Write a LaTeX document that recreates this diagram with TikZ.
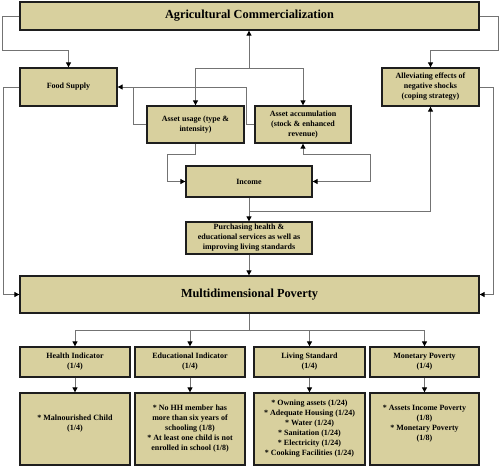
\documentclass[tikz,border=0pt]{standalone}
\usepackage{fontspec}
\setmainfont{Liberation Serif}
\usetikzlibrary{arrows.meta}
\definecolor{boxfill}{RGB}{216,208,158}
\definecolor{linegray}{RGB}{115,115,115}
\definecolor{boxline}{RGB}{30,30,30}
\tikzset{
  box/.style={draw=boxline, line width=1.3pt, fill=boxfill, inner sep=0pt, align=center,
    font=\bfseries\fontsize{8}{10}\selectfont},
  bigbox/.style={box, font=\bfseries\fontsize{12.3}{14}\selectfont},
  txt/.style={inner sep=0pt, align=center, font=\bfseries\fontsize{8}{10}\selectfont},
  conn/.style={draw=linegray, line width=0.9pt},
  arr/.style={conn, -{Triangle[length=5pt,width=5pt,color=black]}},
  darr/.style={conn, {Triangle[length=5pt,width=5pt,color=black]}-{Triangle[length=5pt,width=5pt,color=black]}}
}
\begin{document}
\begin{tikzpicture}[x=1pt,y=-1pt]
\useasboundingbox (0,0) rectangle (500,467);

% boxes
\node[bigbox, minimum width=459pt, minimum height=28pt] (AC) at (249.5,16) {Agricultural Commercialization};
\node[box, minimum width=97pt, minimum height=38pt] (FS) at (68.5,87) {Food Supply};
\node[box, minimum width=97pt, minimum height=38pt] (AL) at (430.5,87) {Alleviating effects of\\negative shocks\\(coping strategy)};
\node[box, minimum width=97pt, minimum height=37pt] (AU) at (195.5,124.5) {Asset usage (type \&\\intensity)};
\node[box, minimum width=96pt, minimum height=37pt] (AA) at (303,124.5) {Asset accumulation\\(stock \& enhanced\\revenue)};
\node[box, minimum width=126pt, minimum height=31pt] (IN) at (249,181.5) {Income};
\node[box, minimum width=126pt, minimum height=32pt] (PU) at (249,238) {Purchasing health \&\\educational services as well as\\improving living standards};
\node[bigbox, minimum width=459pt, minimum height=37pt] (MP) at (249.5,294.5) {Multidimensional Poverty};

\node[box, minimum width=110pt, minimum height=30pt] (HI) at (75,362) {Health Indicator\\(1/4)};
\node[box, minimum width=110pt, minimum height=30pt] (EI) at (190,362) {Educational Indicator\\(1/4)};
\node[box, minimum width=111pt, minimum height=30pt] (LS) at (309.5,362) {Living Standard\\(1/4)};
\node[box, minimum width=109pt, minimum height=30pt] (MO) at (424.5,362) {Monetary Poverty\\(1/4)};

\node[box, minimum width=110pt, minimum height=72pt] (HIs) at (75,429) {};
\node[txt] (HIt) at (75,424) {* Malnourished Child\\(1/4)};
\node[box, minimum width=110pt, minimum height=72pt] (EIs) at (190,429) {* No HH member has\\more than six years of\\schooling (1/8)\\* At least one child is not\\enrolled in school (1/8)};
\node[box, minimum width=111pt, minimum height=72pt] (LSs) at (309.5,429) {* Owning assets (1/24)\\* Adequate Housing (1/24)\\* Water (1/24)\\* Sanitation (1/24)\\* Electricity (1/24)\\* Cooking Facilities (1/24)};
\node[box, minimum width=109pt, minimum height=72pt] (MOs) at (424.5,429) {};
\node[txt] (MOt) at (424.5,424) {* Assets Income Poverty\\(1/8)\\* Monetary Poverty\\(1/8)};

% connectors
\draw[arr] (AC.west) -- (2,16) -- (2,50) -| (FS.north);
\draw[arr] (AC.east) -- (498,16) -- (498,50) -| (AL.north);

\coordinate (j1) at (249,68);
\draw[arr] (j1) -- (j1 |- AC.south);
\draw[arr] (j1) -| (AU.north);
\draw[arr] (j1) -| (AA.north);

\coordinate (fsj) at (133,87);
\draw[arr] (AA.west) -- ++(-8,0) |- (FS.east);
\draw[conn] (AU.west) -| (fsj);

\draw[arr] (FS.west) -- (3,87) |- (MP.west);
\draw[arr] (AL.east) -- (493,87) |- (MP.east);

\draw[arr] (AU.south) |- (167,154) |- (IN.west);
\draw[darr] (IN.east) -| (370,154) -| (AA.south);

\draw[arr] (IN.south) -- (PU.north);
\coordinate (j2) at (249,211);
\draw[arr] (j2) -| (AL.south);
\draw[arr] (PU.south) -- (PU.south |- MP.north);

\coordinate (j3) at (249.5,330);
\draw[conn] (MP.south) -- (j3);
\draw[arr] (j3) -| (HI.north);
\draw[arr] (j3) -| (EI.north);
\draw[arr] (j3) -| (LS.north);
\draw[arr] (j3) -| (MO.north);

\draw[arr] (HI.south) -- (HIs.north);
\draw[arr] (EI.south) -- (EIs.north);
\draw[arr] (LS.south) -- (LSs.north);
\draw[arr] (MO.south) -- (MOs.north);
\end{tikzpicture}
\end{document}
